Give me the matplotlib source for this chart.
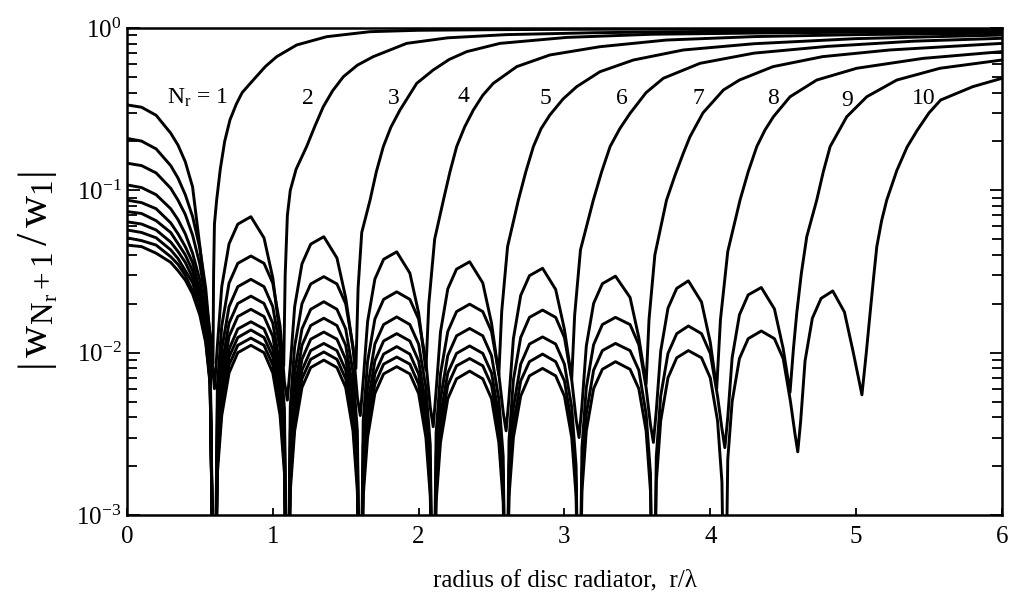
import matplotlib
matplotlib.use("Agg")
import matplotlib.pyplot as plt
from matplotlib.ticker import FixedLocator, LogLocator, NullFormatter

plt.rcParams['font.family'] = ['Liberation Serif', 'DejaVu Serif']
plt.rcParams['mathtext.fontset'] = 'custom'
plt.rcParams['mathtext.rm'] = 'Liberation Serif'
plt.rcParams['mathtext.it'] = 'Liberation Serif:italic'

# shared r/lambda grid for the lobed part (nulls near .60, 1.10, 1.60 ...)
r_grid = [0.0, 0.1, 0.2, 0.3, 0.35, 0.4, 0.45, 0.5, 0.54, 0.57, 0.60,
          0.62, 0.65, 0.70, 0.76, 0.85, 0.94, 1.00, 1.05, 1.08, 1.10,
          1.12, 1.15, 1.20, 1.26, 1.35, 1.44, 1.50, 1.55, 1.58, 1.60,
          1.62, 1.65, 1.70, 1.76, 1.85, 1.94, 2.00, 2.05, 2.08, 2.10,
          2.12, 2.15, 2.20, 2.26, 2.35, 2.44, 2.50, 2.55, 2.58, 2.60,
          2.62, 2.65, 2.70, 2.76, 2.85, 2.94, 3.00, 3.05, 3.08, 3.10,
          3.12, 3.15, 3.20, 3.26, 3.35, 3.45, 3.51, 3.56, 3.59, 3.61,
          3.63, 3.66, 3.71, 3.77, 3.85, 3.94, 4.00, 4.05, 4.08, 4.10,
          4.12, 4.15, 4.20, 4.26, 4.35, 4.44, 4.50, 4.55, 4.58, 4.60,
          4.62, 4.65, 4.70, 4.76, 4.84, 4.92, 4.98]

# |w_{Nr+1}/w_1| on r_grid, one list per Nr (1e-4 = deep null below the axis)
y_nr1 = [0.336, 0.325, 0.29, 0.225, 0.19, 0.15, 0.105, 0.045, 0.022]
y_nr2 = [0.209, 0.201, 0.180, 0.142, 0.119, 0.094, 0.069, 0.044, 0.025, 0.0125, 0.006,
         0.0110, 0.0255, 0.0468, 0.0619, 0.0688, 0.0509, 0.0289]
y_nr3 = [0.147, 0.142, 0.128, 0.103, 0.087, 0.071, 0.053, 0.035, 0.021, 0.0103, 1e-4,
         0.0063, 0.0146, 0.0268, 0.0355, 0.0394, 0.0355, 0.0268, 0.0146, 0.0066, 0.0051,
         0.0083, 0.0192, 0.0352, 0.0466, 0.0518, 0.0383, 0.0218]
y_nr4 = [0.108, 0.104, 0.094, 0.077, 0.066, 0.054, 0.041, 0.028, 0.017, 0.0086, 1e-4,
         0.0045, 0.0105, 0.0192, 0.0255, 0.0283, 0.0255, 0.0192, 0.0105, 0.0045, 1e-4,
         0.0047, 0.0109, 0.0200, 0.0265, 0.0294, 0.0265, 0.0200, 0.0109, 0.0053, 0.0041,
         0.0067, 0.0155, 0.0284, 0.0376, 0.0418, 0.0309, 0.0176]
y_nr5 = [0.087, 0.084, 0.077, 0.063, 0.054, 0.045, 0.036, 0.024, 0.016, 0.0078, 1e-4,
         0.0036, 0.0083, 0.0152, 0.0201, 0.0223, 0.0201, 0.0152, 0.0083, 0.0036, 1e-4,
         0.0033, 0.0076, 0.0140, 0.0185, 0.0206, 0.0185, 0.0140, 0.0076, 0.0033, 1e-4,
         0.0038, 0.0088, 0.0161, 0.0213, 0.0237, 0.0213, 0.0161, 0.0088, 0.0046, 0.0035,
         0.0058, 0.0134, 0.0247, 0.0327, 0.0363, 0.0269, 0.0152]
y_nr6 = [0.074, 0.072, 0.065, 0.055, 0.047, 0.040, 0.032, 0.022, 0.015, 0.0074, 1e-4,
         0.0030, 0.0068, 0.0126, 0.0167, 0.0185, 0.0167, 0.0126, 0.0068, 0.0030, 1e-4,
         0.0026, 0.0060, 0.0111, 0.0147, 0.0163, 0.0147, 0.0111, 0.0060, 0.0026, 1e-4,
         0.0027, 0.0061, 0.0113, 0.0149, 0.0166, 0.0149, 0.0113, 0.0061, 0.0027, 1e-4,
         0.0032, 0.0074, 0.0135, 0.0179, 0.0199, 0.0179, 0.0135, 0.0074, 0.0043, 0.0033,
         0.0053, 0.0122, 0.0225, 0.0298, 0.0331, 0.0245, 0.0139]
y_nr7 = [0.064, 0.062, 0.057, 0.048, 0.042, 0.036, 0.029, 0.020, 0.013, 0.0070, 1e-4,
         0.0025, 0.0057, 0.0105, 0.0140, 0.0155, 0.0140, 0.0105, 0.0057, 0.0025, 1e-4,
         0.0021, 0.0050, 0.0091, 0.0121, 0.0134, 0.0121, 0.0091, 0.0050, 0.0021, 1e-4,
         0.0021, 0.0048, 0.0089, 0.0118, 0.0131, 0.0118, 0.0089, 0.0048, 0.0021, 1e-4,
         0.0023, 0.0052, 0.0096, 0.0127, 0.0141, 0.0127, 0.0096, 0.0052, 0.0023, 1e-4,
         0.0029, 0.0068, 0.0124, 0.0165, 0.0183, 0.0165, 0.0124, 0.0068, 0.0039, 0.0030,
         0.0047, 0.0110, 0.0201, 0.0266, 0.0296, 0.0219, 0.0124]
y_nr8 = [0.057, 0.055, 0.051, 0.043, 0.038, 0.032, 0.027, 0.019, 0.0125, 0.0068, 1e-4,
         0.0022, 0.0051, 0.0094, 0.0124, 0.0138, 0.0124, 0.0094, 0.0051, 0.0022, 1e-4,
         0.0018, 0.0042, 0.0078, 0.0103, 0.0114, 0.0103, 0.0078, 0.0042, 0.0018, 1e-4,
         0.0017, 0.0040, 0.0074, 0.0098, 0.0109, 0.0098, 0.0074, 0.0040, 0.0017, 1e-4,
         0.0018, 0.0041, 0.0075, 0.0099, 0.0110, 0.0099, 0.0075, 0.0041, 0.0018, 1e-4,
         0.0020, 0.0046, 0.0085, 0.0113, 0.0125, 0.0113, 0.0085, 0.0046, 0.0020, 1e-4,
         0.0026, 0.0061, 0.0112, 0.0149, 0.0165, 0.0149, 0.0112, 0.0061, 0.0036, 0.0028,
         0.0044, 0.0102, 0.0188, 0.0249, 0.0277, 0.0205, 0.0116]
y_nr9 = [0.051, 0.049, 0.046, 0.039, 0.035, 0.030, 0.024, 0.018, 0.012, 0.0066, 1e-4,
         0.0020, 0.0046, 0.0084, 0.0111, 0.0123, 0.0111, 0.0084, 0.0046, 0.0020, 1e-4,
         0.0016, 0.0037, 0.0069, 0.0091, 0.0101, 0.0091, 0.0069, 0.0037, 0.0016, 1e-4,
         0.0015, 0.0035, 0.0064, 0.0085, 0.0094, 0.0085, 0.0064, 0.0035, 0.0015, 1e-4,
         0.0015, 0.0034, 0.0063, 0.0083, 0.0092, 0.0083, 0.0063, 0.0034, 0.0015, 1e-4,
         0.0016, 0.0036, 0.0067, 0.0088, 0.0098, 0.0088, 0.0067, 0.0036, 0.0016, 1e-4,
         0.0018, 0.0042, 0.0078, 0.0103, 0.0114, 0.0103, 0.0078, 0.0042, 0.0018, 1e-4,
         0.0023, 0.0054, 0.0099, 0.0131, 0.0146, 0.0131, 0.0099, 0.0054, 0.0034, 0.0026,
         0.0040, 0.0093, 0.0171, 0.0227, 0.0252, 0.0186, 0.0106]
y_nr10 = [0.046, 0.045, 0.041, 0.036, 0.032, 0.028, 0.023, 0.017, 0.0115, 0.0064, 1e-4,
          0.0018, 0.0041, 0.0075, 0.0100, 0.0111, 0.0100, 0.0075, 0.0041, 0.0018, 1e-4,
          0.0014, 0.0033, 0.0061, 0.0081, 0.0090, 0.0081, 0.0061, 0.0033, 0.0014, 1e-4,
          0.0013, 0.0030, 0.0056, 0.0074, 0.0082, 0.0074, 0.0056, 0.0030, 0.0013, 1e-4,
          0.0012, 0.0028, 0.0052, 0.0069, 0.0077, 0.0069, 0.0052, 0.0028, 0.0012, 1e-4,
          0.0013, 0.0030, 0.0054, 0.0072, 0.0080, 0.0072, 0.0054, 0.0030, 0.0013, 1e-4,
          0.0014, 0.0033, 0.0060, 0.0079, 0.0088, 0.0079, 0.0060, 0.0033, 0.0014, 1e-4,
          0.0016, 0.0038, 0.0070, 0.0093, 0.0103, 0.0093, 0.0070, 0.0038, 0.0016, 1e-4,
          0.0022, 0.0050, 0.0092, 0.0122, 0.0136, 0.0122, 0.0092, 0.0050, 0.0032, 0.00245,
          0.0038, 0.0089, 0.0163, 0.0216, 0.0240, 0.0178, 0.0101]

# last dip of each curve and its rise towards 1
tail_x_nr1 = [0.57, 0.59, 0.594, 0.60, 0.615, 0.64, 0.67, 0.706, 0.75, 0.79, 0.866,
              0.95, 1.027, 1.164, 1.37, 1.667, 2.0, 2.5, 3.0, 4.0, 5.0, 6.0]
tail_y_nr1 = [0.013, 0.0086, 0.03, 0.062, 0.087, 0.135, 0.2, 0.271, 0.34, 0.40, 0.478,
              0.58, 0.666, 0.786, 0.884, 0.949, 0.968, 0.976, 0.981, 0.986, 0.989, 0.991]
tail_x_nr2 = [1.075, 1.085, 1.10, 1.12, 1.16, 1.232, 1.29, 1.346, 1.41, 1.484, 1.58,
              1.689, 1.918, 2.2, 2.6, 3.2, 4.0, 5.0, 6.0]
tail_y_nr2 = [0.0083, 0.03, 0.07, 0.10, 0.135, 0.186, 0.25, 0.327, 0.41, 0.501, 0.59,
              0.666, 0.804, 0.87, 0.91, 0.935, 0.953, 0.963, 0.97]
tail_x_nr3 = [1.57, 1.585, 1.61, 1.667, 1.71, 1.758, 1.81, 1.872, 1.987, 2.1, 2.21,
              2.33, 2.558, 3.016, 3.6, 4.5, 6.0]
tail_y_nr3 = [0.0080, 0.025, 0.055, 0.087, 0.13, 0.186, 0.245, 0.312, 0.456, 0.551,
              0.64, 0.715, 0.804, 0.875, 0.915, 0.935, 0.955]
tail_x_nr4 = [2.05, 2.07, 2.11, 2.17, 2.215, 2.261, 2.315, 2.375, 2.44, 2.512, 2.673,
              2.9, 3.244, 3.7, 4.3, 5.0, 6.0]
tail_y_nr4 = [0.0078, 0.02, 0.05, 0.087, 0.13, 0.186, 0.245, 0.312, 0.385, 0.456, 0.578,
              0.682, 0.767, 0.843, 0.885, 0.91, 0.93]
tail_x_nr5 = [2.55, 2.57, 2.61, 2.684, 2.735, 2.787, 2.84, 2.9, 2.99, 3.084, 3.244,
              3.473, 3.815, 4.3, 5.0, 6.0]
tail_y_nr5 = [0.0073, 0.018, 0.045, 0.087, 0.13, 0.186, 0.24, 0.291, 0.365, 0.435, 0.538,
              0.635, 0.732, 0.80, 0.86, 0.905]
tail_x_nr6 = [3.05, 3.07, 3.11, 3.198, 3.255, 3.313, 3.38, 3.45, 3.56, 3.678, 3.93,
              4.3, 4.8, 5.4, 6.0]
tail_y_nr6 = [0.0069, 0.017, 0.043, 0.087, 0.13, 0.186, 0.24, 0.298, 0.40, 0.49, 0.606,
              0.70, 0.77, 0.83, 0.864]
tail_x_nr7 = [3.56, 3.58, 3.62, 3.70, 3.76, 3.815, 3.861, 3.95, 4.09, 4.2, 4.43, 4.77,
              5.23, 6.0]
tail_y_nr7 = [0.0064, 0.016, 0.04, 0.087, 0.125, 0.169, 0.214, 0.30, 0.415, 0.478, 0.578,
              0.666, 0.732, 0.804]
tail_x_nr8 = [4.044, 4.07, 4.12, 4.204, 4.26, 4.319, 4.375, 4.433, 4.547, 4.73, 5.005,
              5.46, 6.0]
tail_y_nr8 = [0.0060, 0.016, 0.042, 0.087, 0.13, 0.186, 0.235, 0.284, 0.377, 0.478, 0.565,
              0.65, 0.715]
tail_x_nr9 = [4.547, 4.57, 4.593, 4.625, 4.662, 4.73, 4.775, 4.822, 4.936, 5.073, 5.279,
              5.576, 6.0]
tail_y_nr9 = [0.0057, 0.0105, 0.0175, 0.031, 0.052, 0.087, 0.13, 0.186, 0.284, 0.377,
              0.478, 0.565, 0.635]
tail_x_nr10 = [5.04, 5.07, 5.096, 5.12, 5.142, 5.175, 5.21, 5.28, 5.35, 5.42, 5.5, 5.58,
               5.8, 6.0]
tail_y_nr10 = [0.0055, 0.010, 0.0175, 0.029, 0.045, 0.065, 0.087, 0.133, 0.185, 0.235,
               0.30, 0.36, 0.435, 0.49]

# curve labels
label_text = ['N$_\\mathrm{r}$ = 1', '2', '3', '4', '5', '6', '7', '8', '9', '10']
label_x = [0.48, 1.243, 1.827, 2.307, 2.867, 3.393, 3.918, 4.433, 4.936, 5.462]
label_y = [0.37, 0.37, 0.37, 0.38, 0.37, 0.37, 0.37, 0.37, 0.36, 0.37]

y_lists = [y_nr1, y_nr2, y_nr3, y_nr4, y_nr5, y_nr6, y_nr7, y_nr8, y_nr9, y_nr10]
tail_x = [tail_x_nr1, tail_x_nr2, tail_x_nr3, tail_x_nr4, tail_x_nr5,
          tail_x_nr6, tail_x_nr7, tail_x_nr8, tail_x_nr9, tail_x_nr10]
tail_y = [tail_y_nr1, tail_y_nr2, tail_y_nr3, tail_y_nr4, tail_y_nr5,
          tail_y_nr6, tail_y_nr7, tail_y_nr8, tail_y_nr9, tail_y_nr10]

fig = plt.figure(figsize=(10.1, 6.02), dpi=100)
ax = fig.add_axes([0.1257, 0.1445, 0.8663, 0.809])

for y, tx, ty in zip(y_lists, tail_x, tail_y):
    xs = r_grid[:len(y)] + tx
    ys = y + ty
    ax.plot(xs, ys, color='black', lw=2.1, solid_joinstyle='round')

for t, x, y in zip(label_text, label_x, label_y):
    ax.text(x, y, t, fontsize=17, ha='center', va='center')

ax.set_yscale('log')
ax.set_xlim(0, 6)
ax.set_ylim(1e-3, 1)

ax.yaxis.set_major_locator(FixedLocator([1e-3, 1e-2, 1e-1, 1]))
ax.set_yticklabels(['10$^{-3}$', '10$^{-2}$', '10$^{-1}$', '10$^{0}$'])
ax.yaxis.set_minor_locator(LogLocator(base=10, subs=[2, 3, 4, 5, 6, 7, 8, 9]))
ax.yaxis.set_minor_formatter(NullFormatter())
ax.set_xticks([0, 1, 2, 3, 4, 5, 6])

ax.tick_params(axis='both', which='both', direction='in', labelsize=18,
               right=True, top=False, width=1.3)
ax.tick_params(axis='y', which='major', length=9, pad=4)
ax.tick_params(axis='y', which='minor', length=7)
ax.tick_params(axis='x', which='major', length=5, pad=8)

for s in ax.spines.values():
    s.set_linewidth(1.8)

ax.set_xlabel('radius of disc radiator,  r/\u03bb', fontsize=18, labelpad=15)
ax.set_ylabel(r'$\left|\,\mathrm{w}_{\mathrm{N}_\mathrm{r}+1}\,/\,\mathrm{w}_1\right|$',
              fontsize=32, labelpad=12)

fig.savefig('out.png', dpi=100)
